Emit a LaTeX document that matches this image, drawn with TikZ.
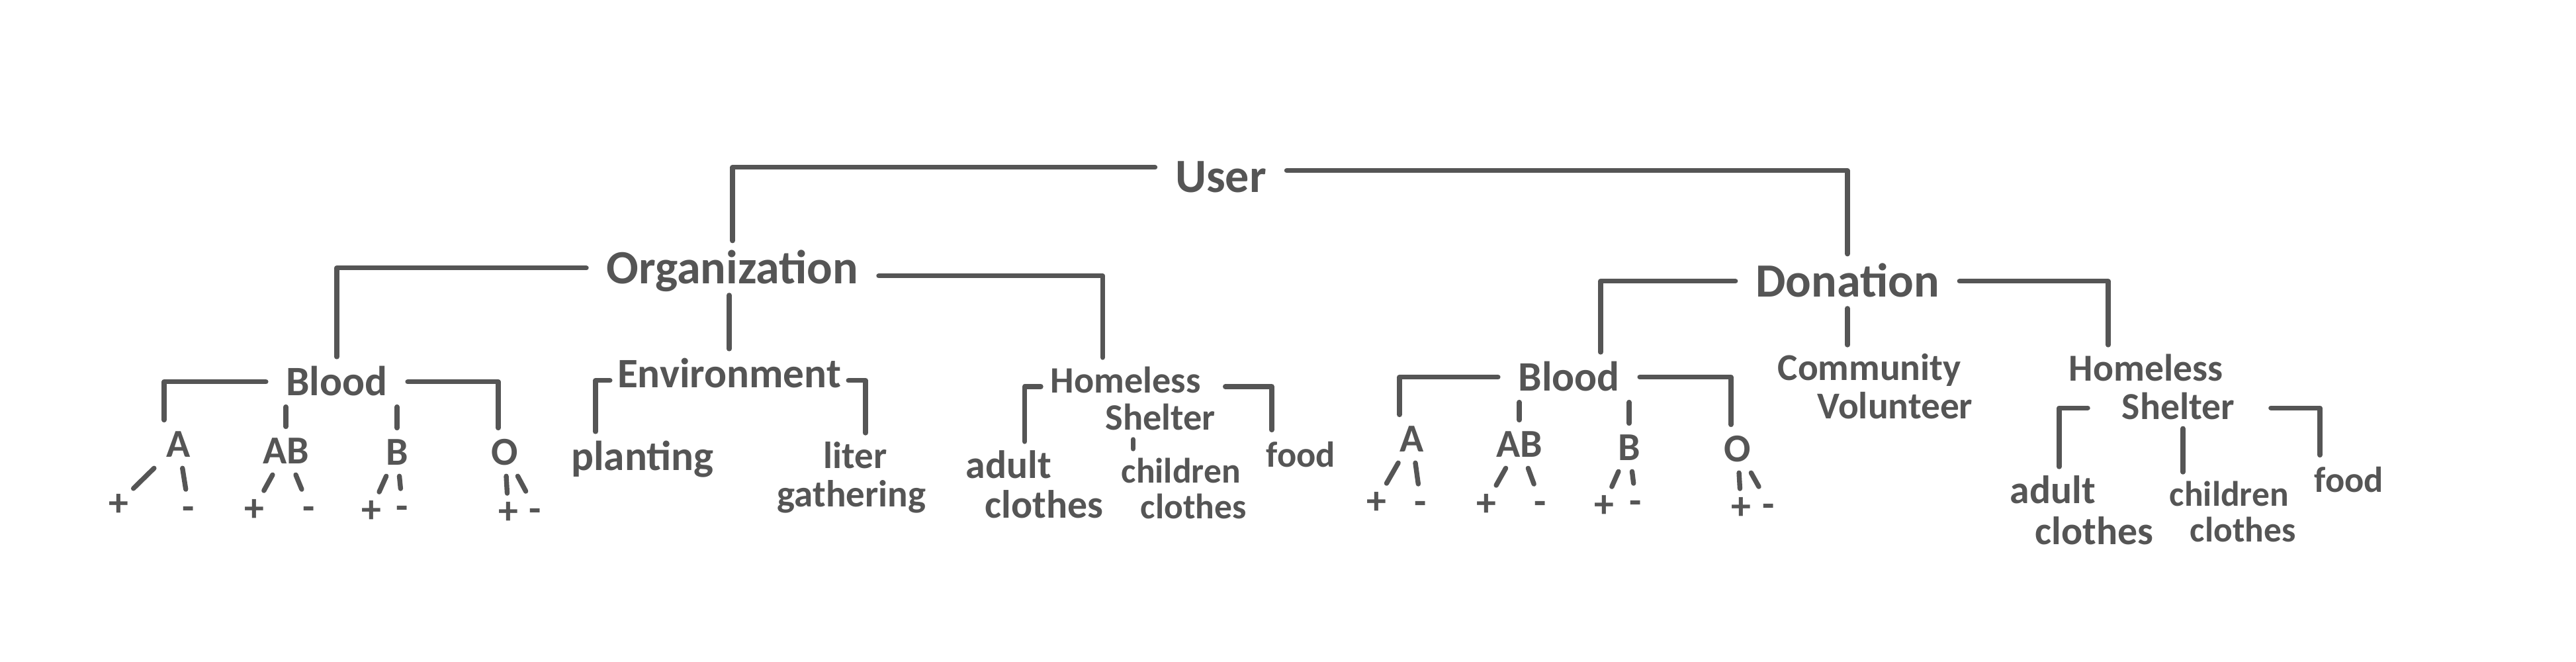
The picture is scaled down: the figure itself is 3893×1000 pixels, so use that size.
\documentclass[tikz,border=0pt]{standalone}
\usepackage{fontspec}
\setmainfont{Carlito}
\usetikzlibrary{calc}
\definecolor{ink}{HTML}{555555}
\begin{document}
\begin{tikzpicture}[x=0.01cm,y=-0.01cm,
  lbl/.style={text=ink, inner xsep=8.5pt, inner ysep=3.7pt, anchor=base},
  big/.style={lbl, font=\fontsize{20.5pt}{24pt}\selectfont\bfseries, text height=14.4pt, text depth=1.2pt},
  med/.style={lbl, font=\fontsize{18pt}{21pt}\selectfont\bfseries, text height=12.6pt, text depth=1.1pt},
  sml/.style={lbl, font=\fontsize{17pt}{20pt}\selectfont\bfseries, text height=11.9pt, text depth=1pt},
  fd/.style={lbl, font=\fontsize{15.5pt}{18pt}\selectfont\bfseries, text height=11.9pt, text depth=1pt},
  sgn/.style={sml, anchor=center, inner xsep=2pt, inner ysep=1pt},
  mlt/.style={text=ink, align=left, inner xsep=4pt, inner ysep=3.7pt, anchor=north west},
  ln/.style={draw=ink, line width=2.1pt, line cap=round, line join=round}
]
\useasboundingbox[fill=white] (0,0) rectangle (3893,1000);

% top levels
\node[big] (user) at (1845,290) {User};
\node[big] (org) at (1107,428) {Organization};
\node[big] (don) at (2792,448) {Donation};

% organization branch
\node[med] (bloodL) at (509,597) {Blood};
\node[med, inner xsep=3pt] (env) at (1102,585) {Environment};
\node[med] (plant) at (971,710) {planting};
\node[mlt, font=\fontsize{16.2pt}{16.3pt}\selectfont\bfseries] (liter) at (1160,654) {\hspace*{0.7cm}liter\\gathering};
\node[mlt, font=\fontsize{16pt}{16.1pt}\selectfont\bfseries] (hsL) at (1573,540) {Homeless\\\hspace*{0.83cm}Shelter};
\node[mlt, font=\fontsize{17pt}{17.1pt}\selectfont\bfseries] (adultL) at (1445,667) {adult\\\hspace*{0.29cm}clothes};
\node[mlt, font=\fontsize{15.2pt}{15.3pt}\selectfont\bfseries] (childL) at (1680,678) {children\\\hspace*{0.29cm}clothes};
\node[fd] (foodL) at (1966,705) {food};

\node[sml] (aL) at (270,690) {A};
\node[sml] (abL) at (432,700) {AB};
\node[sml] (bL) at (600,702) {B};
\node[sml] (oL) at (763,702) {O};
\node[sgn] (aLp) at (179,760) {+};
\node[sgn] (aLm) at (285,766) {-};
\node[sgn] (abLp) at (384,768) {+};
\node[sgn] (abLm) at (467,766) {-};
\node[sgn] (bLp) at (561,770) {+};
\node[sgn] (bLm) at (608,765) {-};
\node[sgn] (oLp) at (768,772) {+};
\node[sgn] (oLm) at (809,769) {-};

% donation branch
\node[med] (bloodR) at (2371,590) {Blood};
\node[mlt, font=\fontsize{16.3pt}{16.4pt}\selectfont\bfseries] (comm) at (2672,521) {Community\\\hspace*{0.6cm}Volunteer};
\node[mlt, font=\fontsize{16.4pt}{16.5pt}\selectfont\bfseries] (hsR) at (3112,521) {Homeless\\\hspace*{0.8cm}Shelter};
\node[mlt, font=\fontsize{17pt}{17.6pt}\selectfont\bfseries] (adultR) at (3023,705) {adult\\\hspace*{0.38cm}clothes};
\node[mlt, font=\fontsize{15.2pt}{15.3pt}\selectfont\bfseries] (childR) at (3264,713) {children\\\hspace*{0.31cm}clothes};
\node[fd] (foodR) at (3550,743) {food};

\node[sml] (aR) at (2134,682) {A};
\node[sml] (abR) at (2296,690) {AB};
\node[sml] (bR) at (2462,695) {B};
\node[sml] (oR) at (2626,697) {O};
\node[sgn] (aRp) at (2080,757) {+};
\node[sgn] (aRm) at (2147,758) {-};
\node[sgn] (abRp) at (2246,760) {+};
\node[sgn] (abRm) at (2328,758) {-};
\node[sgn] (bRp) at (2424,762) {+};
\node[sgn] (bRm) at (2472,757) {-};
\node[sgn] (oRp) at (2631,765) {+};
\node[sgn] (oRm) at (2673,762) {-};

% connectors
\draw[ln] ([yshift=0.14cm]user.west) -| (org.north);
\draw[ln] ([yshift=0.09cm]user.east) -| (don.north);

\draw[ln] (org.west) -| (bloodL.north);
\draw[ln] (org.south -| env.north) -- (env.north);
\draw[ln] ([yshift=-0.12cm]org.east) -| ([xshift=-0.46cm]hsL.north);

\draw[ln] (bloodL.west) -| ([xshift=-0.22cm]aL.north);
\draw[ln] (bloodL.south -| abL.north) -- (abL.north);
\draw[ln] (bloodL.south -| bL.north) -- (bL.north);
\draw[ln] (bloodL.east) -| ([xshift=-0.1cm]oL.north);

\draw[ln] ([yshift=-0.1cm]env.west) -| ([xshift=-0.71cm]plant.north);
\draw[ln] ([yshift=-0.1cm]env.east) -| ([xshift=0.21cm]liter.north);

\draw[ln] ([yshift=0.18cm]hsL.west) -| ([xshift=-0.15cm]adultL.north);
\draw[ln] (hsL.south) -- (hsL.south |- childL.north);
\draw[ln] ([yshift=0.18cm]hsL.east) -| ([xshift=-0.44cm]foodL.north);

\draw[ln] (aL) -- (aLp);
\draw[ln] (aL) -- (aLm);
\draw[ln] (abL) -- (abLp);
\draw[ln] (abL) -- (abLm);
\draw[ln] (bL) -- (bLp);
\draw[ln] (bL) -- (bLm);
\draw[ln] (oL) -- (oLp);
\draw[ln] (oL) -- (oLm);

\draw[ln] (don.west) -| ([xshift=0.48cm]bloodR.north);
\draw[ln] (don.south) -- (don.south |- comm.north);
\draw[ln] (don.east) -| ([xshift=-0.66cm]hsR.north);

\draw[ln] (bloodR.west) -| ([xshift=-0.19cm]aR.north);
\draw[ln] (bloodR.south -| abR.north) -- (abR.north);
\draw[ln] (bloodR.south -| bR.north) -- (bR.north);
\draw[ln] (bloodR.east) -| ([xshift=-0.1cm]oR.north);

\draw[ln] ([xshift=0.43cm,yshift=-0.32cm]hsR.west) -| ([xshift=-0.34cm]adultR.north);
\draw[ln] ($(hsR.south)+(0.47cm,0)$) -- ($(hsR.south |- childR.north)+(0.47cm,0)$);
\draw[ln] ([xshift=0.4cm,yshift=-0.32cm]hsR.east) -| ([xshift=-0.44cm]foodR.north);

\draw[ln] (aR) -- (aRp);
\draw[ln] (aR) -- (aRm);
\draw[ln] (abR) -- (abRp);
\draw[ln] (abR) -- (abRm);
\draw[ln] (bR) -- (bRp);
\draw[ln] (bR) -- (bRm);
\draw[ln] (oR) -- (oRp);
\draw[ln] (oR) -- (oRm);
\end{tikzpicture}
\end{document}
